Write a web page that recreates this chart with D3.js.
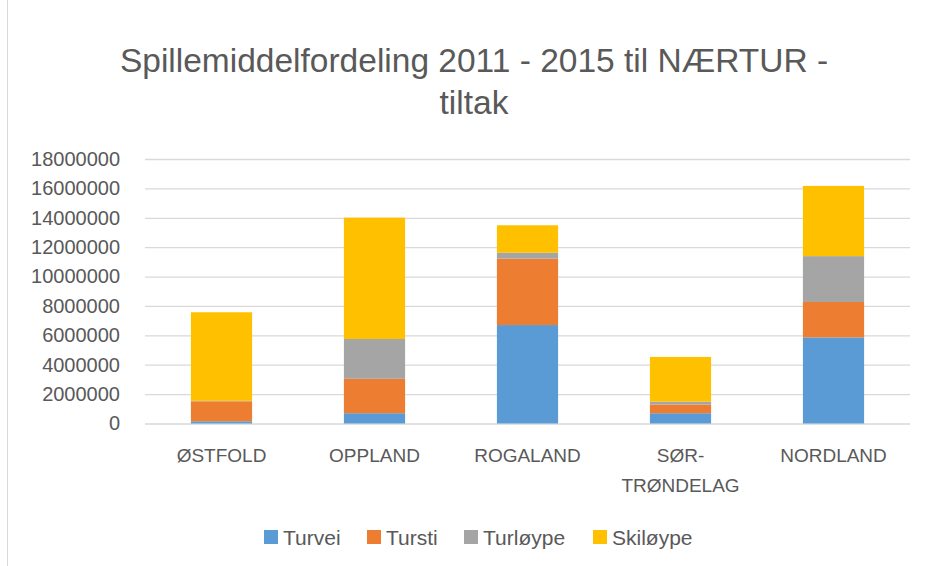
<!DOCTYPE html>
<html>
<head>
<meta charset="utf-8">
<script src="https://cdn.jsdelivr.net/npm/d3@7"></script>
<style>
  body { margin: 0; background: #fff; }
  svg text { font-family: "Liberation Sans", Arial, sans-serif; fill: #595959; }
</style>
</head>
<body>
<svg id="svg" width="927" height="566"></svg>
<script>
// data
var fylker = ["ØSTFOLD", "OPPLAND", "ROGALAND", "SØR-TRØNDELAG", "NORDLAND"];
var serier = ["Turvei", "Tursti", "Turløype", "Skiløype"];
var turvei   = [150000, 700000, 6700000, 700000, 5860000];
var tursti   = [1360000, 2340000, 4520000, 590000, 2410000];
var turloype = [30000, 2710000, 400000, 200000, 3120000];
var skiloype = [6030000, 8260000, 1870000, 3040000, 4780000];
var yTicks = [0, 2000000, 4000000, 6000000, 8000000, 10000000, 12000000, 14000000, 16000000, 18000000];
var farger = ["#5b9bd5", "#ed7d31", "#a5a5a5", "#ffc000"];

var svg = d3.select("#svg");

// ramme (bare venstre kant synlig)
svg.append("line").attr("x1", 7.5).attr("x2", 7.5).attr("y1", 0).attr("y2", 566)
  .attr("stroke", "#d9d9d9").attr("stroke-width", 1);

// tittel
var title = svg.append("text").attr("text-anchor", "middle").attr("font-size", 33.5);
title.append("tspan").attr("x", 474).attr("y", 72).text("Spillemiddelfordeling 2011 - 2015 til NÆRTUR -");
title.append("tspan").attr("x", 474).attr("y", 114).text("tiltak");

var pLeft = 145, pRight = 910, pTop = 159, pBottom = 423.5;

var tabell = fylker.map(function(f, i) {
  return { fylke: f, Turvei: turvei[i], Tursti: tursti[i], "Turløype": turloype[i], "Skiløype": skiloype[i] };
});
var stack = d3.stack().keys(serier)(tabell);

var x = d3.scaleBand().domain(fylker).range([pLeft, pRight]).paddingInner(0.6).paddingOuter(0.3);
var y = d3.scaleLinear().domain([0, 18000000]).range([pBottom, pTop]);

// rutenett + tall
var yAxis = svg.append("g").attr("transform", "translate(" + pLeft + ",0)")
  .call(d3.axisLeft(y).tickValues(yTicks).tickSize(-(pRight - pLeft)).tickPadding(25).tickFormat(d3.format("d")));
yAxis.select(".domain").remove();
yAxis.selectAll(".tick line").attr("stroke", "#d9d9d9").attr("stroke-width", 1.3);
yAxis.selectAll(".tick text").attr("font-size", 20).attr("fill", "#595959")
  .style("font-family", "Liberation Sans, Arial, sans-serif");

// søyler
svg.append("g").selectAll("g").data(stack).enter().append("g")
  .attr("fill", function(d, i) { return farger[i]; })
  .selectAll("rect").data(function(d) { return d; }).enter().append("rect")
  .attr("x", function(d) { return x(d.data.fylke); })
  .attr("width", x.bandwidth())
  .attr("y", function(d) { return y(d[1]); })
  .attr("height", function(d) { return Math.max(0, y(d[0]) - y(d[1])); });

// kategorier
var kat = svg.append("g").selectAll("text").data(fylker).enter().append("text")
  .attr("text-anchor", "middle").attr("font-size", 19)
  .attr("x", function(d) { return x(d) + x.bandwidth() / 2; })
  .attr("y", 462);
kat.each(function(d) {
  var t = d3.select(this);
  if (d === "SØR-TRØNDELAG") {
    t.append("tspan").attr("x", t.attr("x")).attr("y", 462).text("SØR-");
    t.append("tspan").attr("x", t.attr("x")).attr("y", 492).text("TRØNDELAG");
  } else {
    t.text(d);
  }
});

// forklaring
var legX = [264, 367, 464, 593];
var leg = svg.append("g").selectAll("g").data(serier).enter().append("g")
  .attr("transform", function(d, i) { return "translate(" + legX[i] + ",530)"; });
leg.append("rect").attr("width", 14).attr("height", 14).attr("fill", function(d, i) { return farger[i]; });
leg.append("text").attr("x", 19).attr("y", 14.5).attr("font-size", 21).text(function(d) { return d; });
</script>
</body>
</html>
